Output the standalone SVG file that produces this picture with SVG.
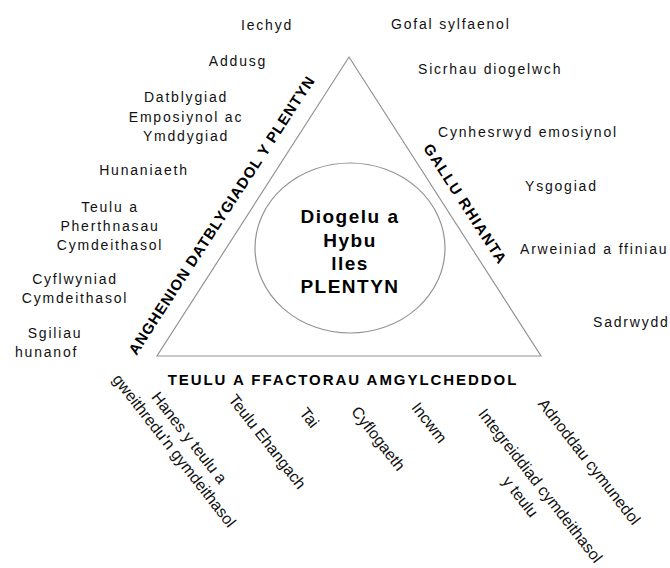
<svg xmlns="http://www.w3.org/2000/svg" width="670" height="568" viewBox="0 0 670 568">
<style>
  .lbl { font-family: "Liberation Sans", Arial, sans-serif; font-size: 14px; letter-spacing: 1.8px; fill: #111; }
  .mid { text-anchor: middle; }
  .rot { font-family: "Liberation Sans", Arial, sans-serif; font-size: 16px; fill: #111; text-anchor: middle; }
  .side { font-family: "Liberation Sans", Arial, sans-serif; font-size: 15px; font-weight: bold; fill: #000; text-anchor: middle; }
  .core { font-family: "Liberation Sans", Arial, sans-serif; font-size: 19px; font-weight: bold; letter-spacing: 1.5px; fill: #000; text-anchor: middle; }
  .shape { fill: none; stroke: #949494; stroke-width: 1.2; }
</style>
<rect width="670" height="568" fill="#fff"/>

<g id="triangle">
  <polygon class="shape" points="349,57 541,356 157,356"/>
</g>

<g id="centre">
  <ellipse class="shape" cx="350" cy="248" rx="95" ry="85"/>
  <text class="core" x="350" y="223">Diogelu a</text>
  <text class="core" x="350" y="247">Hybu</text>
  <text class="core" x="350" y="270">lles</text>
  <text class="core" x="350" y="293">PLENTYN</text>
</g>

<g id="side-child-needs">
  <text class="side" transform="translate(226,218) rotate(-57)" letter-spacing="0.9">ANGHENION DATBLYGIADOL Y PLENTYN</text>
</g>
<g id="side-parenting">
  <text class="side" transform="translate(461,207) rotate(57)" letter-spacing="1.4">GALLU RHIANTA</text>
</g>
<g id="side-family">
  <text class="side" x="343" y="385" letter-spacing="1.95">TEULU A FFACTORAU AMGYLCHEDDOL</text>
</g>

<g id="child-needs">
  <text class="lbl mid" x="267" y="30">Iechyd</text>
  <text class="lbl mid" x="238" y="66">Addusg</text>
  <text class="lbl mid" x="186" y="102">Datblygiad</text>
  <text class="lbl mid" x="186" y="122">Emposiynol ac</text>
  <text class="lbl mid" x="186" y="141">Ymddygiad</text>
  <text class="lbl mid" x="144" y="175">Hunaniaeth</text>
  <text class="lbl mid" x="110" y="212">Teulu a</text>
  <text class="lbl mid" x="110" y="231">Pherthnasau</text>
  <text class="lbl mid" x="110" y="250">Cymdeithasol</text>
  <text class="lbl mid" x="75" y="284">Cyflwyniad</text>
  <text class="lbl mid" x="75" y="303">Cymdeithasol</text>
  <text class="lbl mid" x="55" y="338">Sgiliau</text>
  <text class="lbl" x="15" y="357">hunanof</text>
</g>

<g id="parenting">
  <text class="lbl" x="391" y="29">Gofal sylfaenol</text>
  <text class="lbl" x="418" y="74">Sicrhau diogelwch</text>
  <text class="lbl" x="438" y="137">Cynhesrwyd emosiynol</text>
  <text class="lbl" x="525" y="191">Ysgogiad</text>
  <text class="lbl" x="520" y="254">Arweiniad a ffiniau</text>
  <text class="lbl" x="593" y="327">Sadrwydd</text>
</g>

<g id="family-factors">
  <text class="rot" transform="translate(185,441) rotate(52)">Hanes y teulu a</text>
  <text class="rot" transform="translate(170,454) rotate(52)">gweithredu'n gymdeithasol</text>
  <text class="rot" transform="translate(263,445) rotate(52)">Teulu Ehangach</text>
  <text class="rot" transform="translate(305,421) rotate(52)">Tai</text>
  <text class="rot" transform="translate(374,442) rotate(52)">Cyflogaeth</text>
  <text class="rot" transform="translate(425,426) rotate(52)">Incwm</text>
  <text class="rot" transform="translate(536,489) rotate(52)">Integreiddiad cymdeithasol</text>
  <text class="rot" transform="translate(516,500) rotate(52)">y teulu</text>
  <text class="rot" transform="translate(585,465) rotate(52)">Adnoddau cymunedol</text>
</g>

<g id="connectors"></g>
</svg>
